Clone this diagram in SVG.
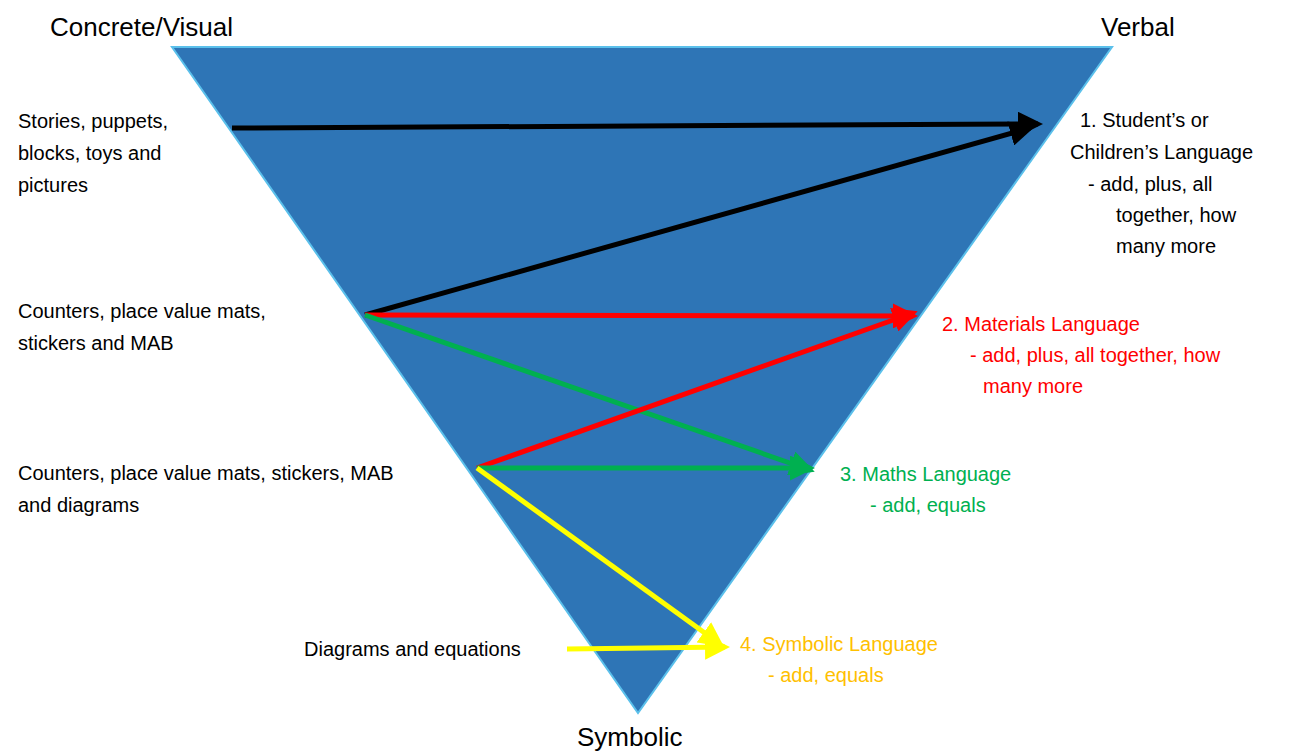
<svg xmlns="http://www.w3.org/2000/svg" width="1305" height="755" viewBox="0 0 1305 755">
<defs>
<style>
text{font-family:"Liberation Sans",Arial,sans-serif;font-size:20px;fill:#000}
.h{font-size:26px}
.r{fill:#FF0000}.g{fill:#00B050}.y{fill:#FFC000}
line{stroke-width:5}
</style>
<marker id="ak" markerWidth="5" markerHeight="5" refX="4" refY="2.5" orient="auto" markerUnits="strokeWidth"><path d="M0,0L5,2.5L0,5z" fill="#000"/></marker>
<marker id="ar" markerWidth="5" markerHeight="5" refX="4" refY="2.5" orient="auto" markerUnits="strokeWidth"><path d="M0,0L5,2.5L0,5z" fill="#FF0000"/></marker>
<marker id="ag" markerWidth="5" markerHeight="5" refX="4" refY="2.5" orient="auto" markerUnits="strokeWidth"><path d="M0,0L5,2.5L0,5z" fill="#00B050"/></marker>
<marker id="ay" markerWidth="5" markerHeight="5" refX="4" refY="2.5" orient="auto" markerUnits="strokeWidth"><path d="M0,0L5,2.5L0,5z" fill="#FFFF00"/></marker>
</defs>
<rect width="1305" height="755" fill="#fff"/>
<g id="triangle"><polygon points="172,47 1112,47 638,713" fill="#2E75B6" stroke="#5BC0EB" stroke-width="2"/></g>
<g id="connectors">
<line x1="232" y1="128" x2="1038" y2="124" stroke="#000" marker-end="url(#ak)"/>
<line x1="365" y1="315" x2="1030" y2="128" stroke="#000" marker-end="url(#ak)"/>
<line x1="365" y1="315" x2="913" y2="316" stroke="#FF0000" marker-end="url(#ar)"/>
<line x1="365" y1="315" x2="810" y2="470" stroke="#00B050" marker-end="url(#ag)"/>
<line x1="477" y1="468" x2="913" y2="313" stroke="#FF0000" marker-end="url(#ar)"/>
<line x1="477" y1="468" x2="810" y2="468" stroke="#00B050" marker-end="url(#ag)"/>
<line x1="477" y1="468" x2="720" y2="644" stroke="#FFFF00" marker-end="url(#ay)"/>
<line x1="567" y1="649" x2="725" y2="647" stroke="#FFFF00" marker-end="url(#ay)"/>
</g>
<g id="headers">
<text class="h" x="50" y="36">Concrete/Visual</text>
<text class="h" x="1101" y="36">Verbal</text>
<text class="h" x="577" y="746">Symbolic</text>
</g>
<g id="left">
<text x="18" y="128">Stories, puppets,</text>
<text x="18" y="160">blocks, toys and</text>
<text x="18" y="192">pictures</text>
<text x="18" y="318">Counters, place value mats,</text>
<text x="18" y="350">stickers and MAB</text>
<text x="18" y="480">Counters, place value mats, stickers, MAB</text>
<text x="18" y="512">and diagrams</text>
<text x="304" y="656">Diagrams and equations</text>
</g>
<g id="right">
<text x="1080" y="127">1. Student’s or</text>
<text x="1070" y="159">Children’s Language</text>
<text x="1088" y="191">- add, plus, all</text>
<text x="1116" y="222">together, how</text>
<text x="1116" y="253">many more</text>
<text class="r" x="942" y="331">2. Materials Language</text>
<text class="r" x="970" y="362">- add, plus, all together, how</text>
<text class="r" x="983" y="393">many more</text>
<text class="g" x="840" y="481">3. Maths Language</text>
<text class="g" x="870" y="512">- add, equals</text>
<text class="y" x="740" y="651">4. Symbolic Language</text>
<text class="y" x="768" y="682">- add, equals</text>
</g>
</svg>
